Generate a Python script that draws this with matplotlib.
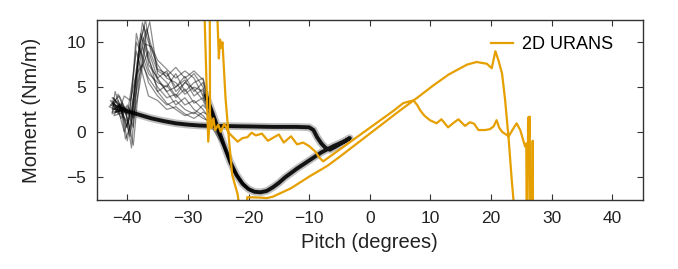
import matplotlib
matplotlib.use("Agg")
import matplotlib.pyplot as plt

plt.rcParams['font.family'] = ['Liberation Sans', 'DejaVu Sans']

# experimental cycles: dense bundle (mean path of the repeated cycles)
bundle_pitch = [-41.0, -40.0, -38.0, -36.0, -34.0, -32.0, -30.0, -28.0, -26.0, -24.0,
                -22.0, -20.0, -16.0, -12.0, -10.0, -9.3, -8.7, -8.0, -7.3, -6.6,
                -5.5, -4.5, -3.3, -4.0, -6.0, -8.0, -10.0, -12.0, -14.0, -15.0,
                -16.0, -17.0, -18.0, -19.0, -20.0, -21.0, -22.0, -23.0, -24.0, -25.0,
                -26.0, -27.0]
bundle_moment = [2.6, 2.3, 1.9, 1.5, 1.2, 0.95, 0.8, 0.7, 0.65, 0.65,
                 0.62, 0.6, 0.55, 0.55, 0.5, 0.2, -0.6, -1.3, -1.8, -2.0,
                 -1.6, -1.2, -0.7, -1.0, -1.6, -2.3, -3.2, -4.1, -5.1, -5.7,
                 -6.2, -6.6, -6.75, -6.7, -6.4, -5.8, -4.8, -3.4, -1.6, 0.3,
                 2.2, 4.0]

# experimental cycles: return branch + scattered stall part, (pitch, moment) per cycle
cycles = [
    [(-20.0, -6.4), (-22.3, -4.6), (-24.6, -0.6), (-26.5, 2.5), (-27.5, 4.5), (-29, 5.0), (-30.5, 4.2), (-32, 5.5), (-33.5, 6.0), (-35, 7.5), (-36.5, 10.0), (-37.5, 12.2), (-38.5, 7.0), (-39.3, 2.0), (-40.2, 0.5), (-41.2, 3.0), (-42.3, 2.5), (-41.5, 2.8), (-40.5, 2.4)],
    [(-20.6, -6.2), (-22.8, -4.0), (-25.0, 0.0), (-26.5, 2.0), (-27.5, 3.5), (-29, 4.8), (-30.5, 5.5), (-32, 4.0), (-33.5, 5.5), (-35, 6.5), (-36.3, 12.3), (-37.0, 10.5), (-38.0, 6.0), (-39.0, -1.5), (-39.8, 1.0), (-41.0, 2.0), (-42.5, 3.5), (-41.8, 2.2), (-40.5, 2.3)],
    [(-19.6, -6.6), (-21.8, -5.2), (-24.2, -1.5), (-26.5, 3.2), (-27.5, 5.5), (-29, 4.5), (-30.5, 6.2), (-32, 5.0), (-33.5, 4.5), (-35, 5.8), (-36.5, 8.0), (-37.8, 11.0), (-38.8, 5.0), (-39.5, 0.0), (-40.3, 2.5), (-41.3, 4.0), (-42.8, 3.0), (-41.2, 2.6)],
    [(-20.3, -6.3), (-22.6, -4.2), (-25.2, 0.3), (-26.5, 1.5), (-27.5, 2.5), (-29, 3.5), (-30.5, 3.0), (-32, 4.2), (-33.5, 3.8), (-35, 5.0), (-36.5, 7.0), (-37.5, 9.5), (-38.2, 8.0), (-39.0, 3.0), (-40.0, -1.0), (-40.8, 2.0), (-42.0, 4.5), (-42.5, 2.0), (-40.8, 2.5)],
    [(-21.0, -5.8), (-23.2, -3.2), (-25.4, 0.8), (-26.5, 2.8), (-27.5, 4.0), (-29, 6.0), (-30.5, 6.8), (-32, 6.0), (-33.5, 7.0), (-35, 8.0), (-36.0, 9.5), (-37.0, 9.8), (-38.0, 5.0), (-39.0, 1.5), (-40.0, 3.0), (-41.0, 1.5), (-42.0, 3.0), (-40.5, 2.6)],
    [(-19.8, -6.5), (-22.0, -5.0), (-24.0, -1.8), (-26.5, 1.0), (-27.5, 1.8), (-29, 2.5), (-30.5, 3.8), (-32, 3.0), (-33.5, 4.5), (-35, 6.0), (-36.5, 9.0), (-37.8, 7.0), (-38.8, 3.5), (-39.5, -0.5), (-40.5, 1.5), (-41.5, 3.5), (-43.0, 2.8), (-41.0, 2.3)],
    [(-20.8, -6.0), (-23.0, -3.6), (-25.1, 0.4), (-26.5, 3.5), (-27.5, 6.0), (-29, 5.5), (-30.5, 4.5), (-32, 6.5), (-33.5, 5.0), (-35, 5.5), (-36.5, 6.5), (-37.5, 8.5), (-38.5, 10.0), (-39.0, 6.0), (-39.8, 1.0), (-40.8, 3.2), (-42.0, 2.2), (-40.8, 2.4)],
    [(-20.1, -6.4), (-22.4, -4.4), (-24.8, -0.3), (-26.5, 2.2), (-27.5, 3.0), (-29, 2.0), (-30.5, 2.5), (-32, 3.5), (-33.5, 3.0), (-35, 4.0), (-36.5, 5.5), (-37.5, 8.0), (-38.5, 11.0), (-39.3, 4.0), (-40.0, 0.5), (-41.0, 2.8), (-42.5, 3.8), (-41.0, 2.7)],
    [(-20.5, -6.2), (-22.7, -4.2), (-24.9, -0.2), (-26.5, 2.6), (-27.5, 4.8), (-29, 4.0), (-30.5, 5.8), (-32, 5.0), (-33.5, 6.5), (-35, 7.0), (-36.8, 11.5), (-38.0, 9.0), (-38.8, 4.5), (-39.5, 2.0), (-40.5, 0.0), (-41.5, 2.5), (-42.8, 3.5), (-41.0, 2.5)],
    [(-19.5, -6.6), (-21.6, -5.4), (-23.8, -2.0), (-26.5, 1.8), (-27.5, 2.2), (-29, 1.5), (-30.5, 2.0), (-32, 2.8), (-33.5, 2.5), (-35, 3.5), (-36.5, 4.0), (-37.5, 6.5), (-38.5, 9.0), (-39.3, 5.0), (-40.0, 2.0), (-41.2, 3.2), (-42.2, 1.8), (-40.5, 2.2)],
    [(-20.9, -5.9), (-23.1, -3.4), (-25.3, 0.6), (-26.5, 3.0), (-27.5, 5.0), (-29, 6.5), (-30.5, 5.5), (-32, 4.5), (-33.5, 6.8), (-35, 6.0), (-36.5, 7.5), (-37.2, 11.8), (-38.0, 9.5), (-38.8, 2.5), (-39.3, -1.8), (-40.2, 2.0), (-41.5, 4.2), (-42.5, 2.5), (-40.8, 2.5)],
    [(-20.2, -6.3), (-22.5, -4.4), (-24.7, -0.5), (-26.5, 2.4), (-27.5, 3.8), (-29, 3.2), (-30.5, 4.8), (-32, 3.8), (-33.5, 5.2), (-35, 4.5), (-36.5, 6.0), (-37.5, 7.5), (-38.5, 6.5), (-39.5, 3.5), (-40.5, 4.0), (-41.5, 2.0), (-42.5, 3.2), (-41.0, 2.6)],
    [(-19.9, -6.4), (-22.1, -4.9), (-24.4, -1.0), (-26.5, 1.2), (-27.5, 1.5), (-29, 2.2), (-30.5, 1.8), (-32, 2.5), (-33.5, 3.2), (-35, 4.5), (-36.5, 8.5), (-37.3, 10.5), (-38.3, 6.0), (-39.0, 0.5), (-40.0, 2.5), (-41.5, 3.0), (-42.5, 2.2), (-40.5, 2.4)],
    [(-21.1, -5.7), (-23.3, -3.0), (-25.5, 1.0), (-26.5, 2.9), (-27.5, 5.8), (-29, 6.8), (-30.5, 6.0), (-32, 7.2), (-33.5, 6.2), (-35, 6.8), (-36.0, 8.5), (-37.0, 12.5), (-37.8, 10.0), (-38.6, 5.5), (-39.3, 1.0), (-40.3, -0.8), (-41.0, 2.5), (-42.3, 3.8), (-40.8, 2.5)],
]

# 2D URANS (values beyond the axis limits are where the curve leaves the frame)
urans_pitch = [-27.3, -26.65, -26.35, -26.1, -25.8, -25.5, -25.0, -24.6, -24.0, -23.3,
               -22.7, -21.8, -21.0, -20.2, -19.5, -18.8, -17.8, -16.8, -15.8, -15.0,
               -14.2, -13.0, -12.0, -11.0, -10.0, -9.0, -8.3, -7.7, -4.0, 0.0,
               4.0, 5.5, 6.5, 7.2, 7.8, 8.3, 9.0, 9.9, 11.0, 11.8,
               12.9, 13.8, 14.6, 15.7, 16.5, 17.2, 17.9, 19.0, 19.8, 20.4,
               20.9, 21.3, 21.8, 22.9, 23.6, 24.2, 24.8, 25.6, 25.8, 25.85,
               26.0, 26.1, 26.25, 26.35, 26.45, 26.8, 26.85, 26.9, 24.0, 23.8,
               23.4, 22.9, 22.3, 21.8, 21.2, 20.7, 20.1, 19.3, 17.6, 16.0,
               13.0, 10.5, 8.0, 5.0, 0.0, -5.0, -7.0, -10.0, -13.0, -16.0,
               -17.0, -18.0, -20.2, -20.4, -21.4, -21.8, -22.7, -23.2, -23.8, -24.3,
               -24.5, -24.7, -24.9, -25.2, -26.4, -26.35, -26.3]
urans_moment = [14.0, -1.1, 1.8, 0.4, 1.5, 0.2, 0.8, 0.0, 0.9, -0.1,
                -0.5, -1.1, -0.7, -0.6, -0.1, -0.4, -0.2, -1.0, -0.6, -0.3,
                -1.2, -0.5, -1.4, -1.2, -1.6, -2.2, -2.9, -3.3, -1.5, 0.45,
                2.4, 3.2, 3.4, 3.5, 3.0, 2.4, 1.8, 1.3, 0.95, 1.4,
                0.5, 1.0, 1.4, 0.66, 1.07, 0.9, 0.2, 0.2, 0.3, 0.6,
                1.3, 0.5, 0.0, -0.5, 0.3, 0.95, 0.2, -1.65, -1.3, -9.0,
                -9.0, 1.6, -0.5, 1.7, -9.0, -9.0, -1.0, -9.0, -9.0, -8.5,
                -5.4, -0.9, 3.6, 6.5, 8.0, 9.0, 7.1, 7.6, 7.8, 7.5,
                6.4, 5.2, 3.9, 2.4, -0.2, -2.8, -3.8, -5.0, -6.3, -7.25,
                -7.4, -7.35, -7.3, -9.0, -9.0, -7.0, -4.8, -1.1, 3.8, 10.0,
                9.4, 10.3, 8.2, 14.0, 14.0, 1.0, 0.6]

fig, ax = plt.subplots(figsize=(6.78, 2.69), dpi=100)
fig.subplots_adjust(left=0.143, right=0.948, top=0.926, bottom=0.257)

# experimental data
for c in cycles:
    ax.plot([p for p, m in c], [m for p, m in c], color='black', lw=0.9, alpha=0.45)
ax.plot(bundle_pitch, bundle_moment, color='black', lw=5.5, alpha=0.25,
        solid_joinstyle='round')
ax.plot(bundle_pitch, bundle_moment, color='black', lw=2.8, alpha=0.9,
        solid_joinstyle='round')

# simulation
ax.plot(urans_pitch, urans_moment, color='#E69F00', lw=1.6, label='2D URANS')

ax.set_xlim(-45, 45)
ax.set_ylim(-7.6, 12.5)
ax.set_xticks([-40, -30, -20, -10, 0, 10, 20, 30, 40])
ax.set_yticks([-5, 0, 5, 10])
ax.tick_params(direction='in', top=True, right=True, length=4, width=0.8,
               labelsize=12.5, colors='#333333', labelcolor='#222222', pad=8)
for s in ax.spines.values():
    s.set_color('#333333')
    s.set_linewidth(1.0)
ax.set_xlabel('Pitch (degrees)', fontsize=14.5, color='#222222', labelpad=5)
ax.set_ylabel('Moment (Nm/m)', fontsize=14.5, color='#222222', labelpad=18)

ax.legend(loc='upper right', bbox_to_anchor=(0.975, 1.0), frameon=False,
          fontsize=13, handlelength=1.2, handletextpad=0.5)

fig.savefig('out.png', dpi=100)
